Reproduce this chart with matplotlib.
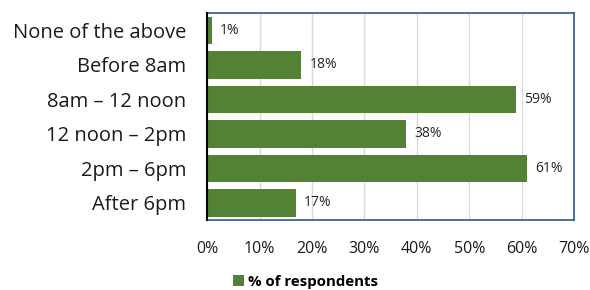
import matplotlib
matplotlib.use('Agg')
import matplotlib.pyplot as plt
from matplotlib.ticker import FuncFormatter

categories = ['None of the above', 'Before 8am', '8am \u2013 12 noon',
              '12 noon \u2013 2pm', '2pm \u2013 6pm', 'After 6pm']
values = [1, 18, 59, 38, 61, 17]
series_name = '% of respondents'

GREEN = '#548235'
BORDER = '#2F5597'

plt.rcParams['font.family'] = ['Open Sans', 'DejaVu Sans']

fig = plt.figure(figsize=(5.9, 2.9), dpi=100)
ax = fig.add_axes([0.351, 0.241, 0.622, 0.714])

ypos = list(range(len(categories)))
bars = ax.barh(ypos, values, height=0.8, color=GREEN, label=series_name, zorder=3)

for rect, v in zip(bars, values):
    ax.text(rect.get_width() + 1.5, rect.get_y() + rect.get_height() / 2,
            '%d%%' % v, va='center', ha='left', fontsize=10, color='#262626')

ax.set_yticks(ypos)
ax.set_yticklabels(categories, fontsize=14.5, color='#1a1a1a')
ax.set_ylim(len(categories) - 0.5, -0.5)

ax.set_xlim(0, 70)
ax.set_xticks(range(0, 71, 10))
ax.xaxis.set_major_formatter(FuncFormatter(lambda x, p: '%d%%' % x))
ax.tick_params(axis='x', labelsize=11.5, length=0, pad=15, colors='#1a1a1a')
ax.tick_params(axis='y', length=0, pad=15)
ax.grid(axis='x', color='#d9d9d9', linewidth=1, zorder=0)

for side in ['top', 'right', 'bottom']:
    ax.spines[side].set_color(BORDER)
    ax.spines[side].set_linewidth(1.2)
ax.spines['left'].set_color('black')
ax.spines['left'].set_linewidth(1.5)
ax.spines['left'].set_zorder(4)

leg = fig.legend(loc='center', bbox_to_anchor=(0.518, 0.028), frameon=False,
                 handlelength=0.7, handleheight=0.7, handletextpad=0.3,
                 prop={'size': 10.8, 'weight': 'bold'})

fig.savefig('out.png', dpi=100)
